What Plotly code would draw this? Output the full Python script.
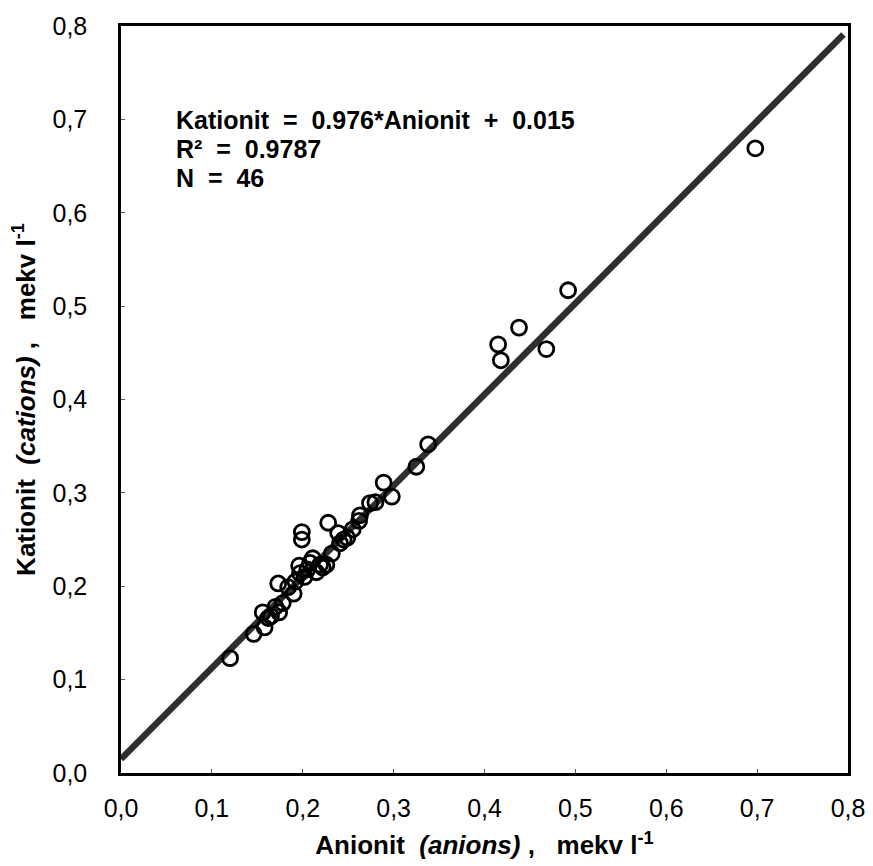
import plotly.graph_objects as go

anion = [0.120, 0.146, 0.158, 0.162, 0.156, 0.174, 0.178, 0.173, 0.190, 0.184,
         0.199, 0.199, 0.196, 0.202, 0.208, 0.211, 0.222, 0.226, 0.219, 0.228,
         0.239, 0.241, 0.249, 0.255, 0.263, 0.274, 0.289, 0.298, 0.197, 0.492,
         0.438, 0.415, 0.418, 0.468, 0.338, 0.325, 0.698, 0.165, 0.205, 0.215,
         0.232, 0.245, 0.262, 0.192, 0.170, 0.280]
cation = [0.123, 0.149, 0.156, 0.166, 0.172, 0.172, 0.182, 0.203, 0.192, 0.199,
          0.258, 0.250, 0.222, 0.210, 0.225, 0.230, 0.220, 0.223, 0.223, 0.268,
          0.257, 0.246, 0.252, 0.261, 0.276, 0.289, 0.311, 0.296, 0.214, 0.517,
          0.477, 0.459, 0.442, 0.454, 0.352, 0.328, 0.669, 0.168, 0.218, 0.215,
          0.235, 0.250, 0.270, 0.205, 0.178, 0.290]

slope = 0.976
intercept = 0.015
fit_x = [0.0, 0.795]
fit_y = [slope * v + intercept for v in fit_x]

tick_vals = [0.0, 0.1, 0.2, 0.3, 0.4, 0.5, 0.6, 0.7, 0.8]
tick_text = ["0,0", "0,1", "0,2", "0,3", "0,4", "0,5", "0,6", "0,7", "0,8"]

stats_lines = ["<b>Kationit  =  0.976*Anionit  +  0.015</b>",
               "<b>R²  =  0.9787</b>",
               "<b>N  =  46</b>"]
stats_y = [0.699, 0.668, 0.637]

FONT = "Liberation Sans, Arial, sans-serif"

fig = go.Figure()
fig.add_trace(go.Scatter(x=fit_x, y=fit_y, mode="lines",
                         line=dict(color="#2e2e2e", width=6.5), showlegend=False,
                         hoverinfo="skip"))
fig.add_trace(go.Scatter(x=anion, y=cation, mode="markers",
                         marker=dict(symbol="circle-open", size=15, color="black",
                                     line=dict(width=2.8, color="black")),
                         showlegend=False))

for txt, yy in zip(stats_lines, stats_y):
    fig.add_annotation(
        xref="x", yref="y", x=0.059, y=yy, xanchor="left", yanchor="middle",
        showarrow=False, align="left", text=txt, borderpad=0,
        font=dict(family=FONT, size=25, color="black"))

axis_common = dict(
    range=[0, 0.8], tickvals=tick_vals, ticktext=tick_text, automargin=False,
    showgrid=False, zeroline=False, showline=True, mirror=True,
    linecolor="black", linewidth=2.5, ticks="inside", ticklen=4,
    tickcolor="#555", tickwidth=1,
    tickfont=dict(family=FONT, size=25, color="black"),
)

fig.update_layout(
    width=865, height=858,
    margin=dict(l=113, r=25, t=18, b=93, autoexpand=False),
    plot_bgcolor="white", paper_bgcolor="white",
    xaxis=dict(**axis_common, ticklabelstandoff=11,
               title=dict(text="<b>Anionit  <i>(anions)</i> ,   mekv l<sup>-1</sup></b>",
                          font=dict(family=FONT, size=26, color="black"), standoff=16)),
    yaxis=dict(**axis_common, ticklabelstandoff=26,
               title=dict(text="<b>Kationit  <i>(cations)</i> ,   mekv l<sup>-1</sup></b>",
                          font=dict(family=FONT, size=26, color="black"), standoff=10)),
)

fig.write_html("out.html")
